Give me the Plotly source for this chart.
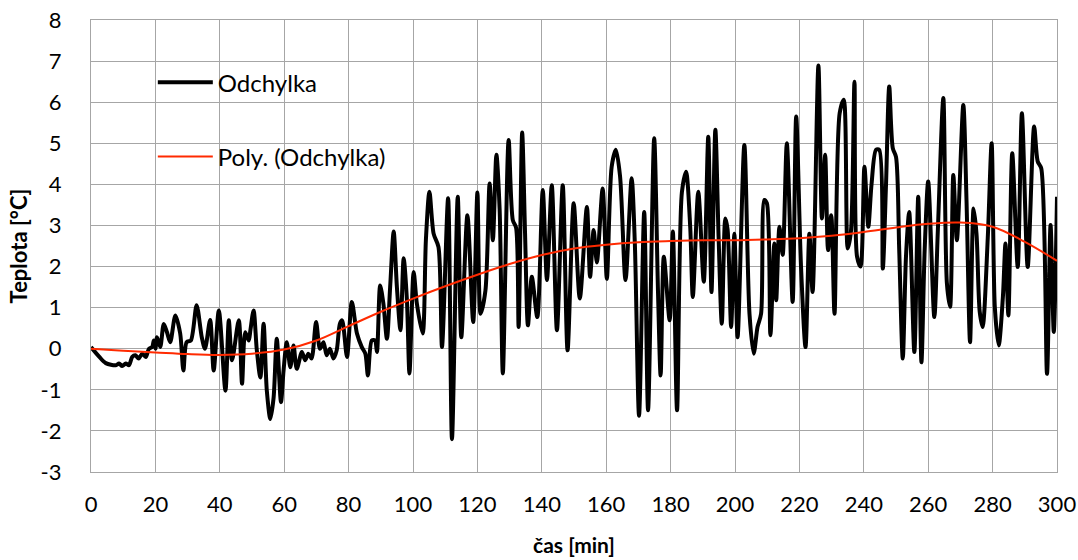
import plotly.graph_objects as go

# Odchylka (deviation): time [min] and temperature [°C]
time_min = [0, 2.6, 4.6, 7.7, 8.7, 9.7, 10.8, 11.8, 12.8, 13.8, 14.8, 15.9, 17, 18, 19, 19.5, 20, 20.5,
            21.5, 22.6, 23.6, 24.6, 26.2, 27.7, 28.7, 29.7, 31, 32.8, 34.4, 35.4, 37, 38.1, 39.7, 41.75,
            42.8, 43.8, 45.9, 46.9, 47.9, 49, 49.5, 50.5, 51.5, 52.6, 53.6, 54.6, 55.7, 56.7, 57.7, 59,
            59.8, 60.8, 61.9, 62.9, 63.9, 65.5, 66.5, 67.5, 68.5, 69.9, 71.1, 72.2, 73.2, 74.2, 75.3,
            76.3, 77.3, 78, 79.5, 81, 82.6, 84.1, 85.2, 86, 87.2, 88.2, 88.8, 89.8, 90.8, 91.9, 92.9, 94,
            95, 96.1, 97.1, 98.1, 98.9, 100.2, 101.2, 103, 104, 105.1, 106.4, 107.9, 109, 110.9, 112.1,
            113.9, 115, 116.9, 118.7, 120, 121, 122.5, 123.8, 124.8, 125.9, 126.9, 127.9, 129.7, 131,
            132, 132.8, 133.9, 134.8, 135.7, 136.9, 138.6, 140.3, 141.6, 143.1, 144.7, 146.5, 148,
            149.9, 151.8, 154, 155, 156.1, 157.1, 158.9, 160.2, 161.7, 163, 164.3, 166, 167.9, 168.9,
            170.2, 171.8, 173, 174.9, 176.1, 176.9, 177.9, 179.7, 180.7, 182, 183.5, 184.8, 186.1,
            186.9, 188.6, 190.3, 191.7, 192.7, 193.9, 194.9, 195.9, 197, 197.7, 198.8, 199.8, 200.8,
            202.9, 204.5, 205.8, 207, 208.1, 209.1, 209.9, 211, 212.2, 212.8, 213.8, 214.8, 216.1,
            217.9, 219, 220.5, 221.9, 223.1, 224.1, 225.9, 227, 228, 228.9, 229.9, 230.9, 232.5, 233.8,
            235, 236, 237.1, 237.9, 239, 240.2, 241.4, 242.4, 243.8, 244.8, 245.9, 246.9, 247.9, 249,
            250, 251, 252.1, 253.1, 254.1, 255.7, 256.9, 257.9, 258.9, 260, 261.9, 263, 264.7, 265.8,
            266.8, 267.8, 268.9, 270.9, 271.9, 273, 274.1, 275, 276, 276.9, 278.5, 279.7, 280.7, 281.9,
            283.2, 284, 284.9, 286.1, 287.8, 289.1, 290.9, 292.9, 294, 295.1, 296.9, 298, 299, 300]
deviation = [0.04, -0.2, -0.35, -0.4, -0.36, -0.42, -0.36, -0.4, -0.2, -0.16, -0.24, -0.12, -0.2, 0.0,
             0.04, 0.2, 0.0, 0.28, 0.04, 0.6, 0.4, 0.16, 0.81, 0.37, -0.53, 0.16, 0.2, 1.06, 0.28, 0.0,
             0.7, -0.53, 0.93, -1.02, 0.69, -0.28, 0.69, -0.85, 0.4, 0.2, 0.45, 0.93, -0.04, -0.7, 0.61,
             -1.02, -1.71, -1.2, 0.24, -1.3, -0.53, 0.16, -0.45, 0.08, -0.49, -0.08, -0.28, -0.12,
             -0.24, 0.65, 0.0, 0.16, -0.16, 0.0, -0.24, -0.04, 0.61, 0.69, -0.2, 1.14, 0.37, 0.04,
             -0.12, -0.65, 0.2, 0.2, -0.08, 1.54, 1.1, 0.24, 1.5, 2.85, 1.5, 0.45, 2.2, 1.2, -0.6, 1.87,
             1.1, 0.37, 2.64, 3.82, 2.8, 2.48, 0.04, 3.66, -2.2, 3.7, 0.28, 3.25, 0.65, 3.8, 0.85, 1.42,
             4.02, 2.64, 4.72, 3.4, -0.6, 5.08, 3.13, 2.95, 0.53, 5.26, 2.8, 0.57, 1.75, 0.77, 3.86,
             1.67, 3.98, 0.45, 3.98, -0.04, 3.54, 1.22, 3.45, 1.75, 2.89, 2.1, 3.9, 1.7, 4.43, 4.84,
             4.2, 1.67, 4.15, 2.55, -1.63, 3.33, -1.5, 5.12, 1.35, -0.65, 2.24, 0.69, 2.85, -1.5, 3.8,
             4.31, 2.95, 1.26, 3.82, 1.63, 5.16, 1.38, 5.33, 2.73, 0.61, 3.17, 2.9, 0.53, 2.8, 0.28,
             4.96, 0.85, -0.12, 0.53, 0.85, 3.62, 3.54, 0.33, 2.56, 1.18, 2.97, 2.28, 5.0, 1.14, 5.65,
             2.0, 0.04, 2.8, 1.38, 6.89, 3.17, 4.72, 2.4, 3.25, 0.85, 5.73, 6.06, 2.44, 2.85, 6.5,
             2.24, 2.0, 4.43, 2.97, 4.0, 4.84, 4.84, 1.95, 4.0, 6.38, 4.88, 4.67, 2.4, -0.24, 2.24,
             3.33, -0.08, 3.7, -0.33, 2.4, 4.07, 0.77, 2.89, 6.1, 1.6, 1.02, 4.23, 2.64, 5.93, 3.6,
             0.16, 3.41, 2.8, 0.9, 0.53, 2.7, 5.0, 1.0, 0.08, 1.26, 2.56, 0.81, 4.76, 1.99, 5.73, 1.99,
             5.41, 4.56, 4.39, -0.61, 3.01, 0.41, 3.7]

# Poly. (Odchylka) trend line
trend_time = [0, 10, 20, 30, 40, 50, 60, 70, 80, 90, 100, 110, 120, 130, 140, 150, 160, 170, 180,
              190, 200, 210, 220, 230, 240, 250, 260, 270, 280, 290, 300]
trend_value = [0.0, -0.05, -0.09, -0.13, -0.15, -0.12, -0.02, 0.2, 0.55, 0.9, 1.22, 1.52, 1.8, 2.06,
               2.28, 2.44, 2.53, 2.59, 2.62, 2.64, 2.64, 2.66, 2.69, 2.75, 2.84, 2.95, 3.04, 3.07,
               2.97, 2.6, 2.14]

x_ticks = list(range(0, 301, 20))
x_tick_text = [str(v) for v in x_ticks]
y_ticks = list(range(-3, 9))
y_tick_text = [str(v) for v in y_ticks]

FONT = "Lato"
GRID = "#a6a6a6"

fig = go.Figure()
fig.add_trace(go.Scatter(
    x=time_min, y=deviation, mode="lines", name="Odchylka",
    line=dict(color="black", width=4, shape="spline", smoothing=0.8),
    legendgroup="a",
))
fig.add_trace(go.Scatter(
    x=trend_time, y=trend_value, mode="lines", name="Poly. (Odchylka)",
    line=dict(color="#ff2a00", width=2, shape="spline", smoothing=1.0),
    legendgroup="b",
))

fig.update_layout(
    width=1078, height=560,
    margin=dict(l=91, r=21, t=20, b=88),
    paper_bgcolor="white", plot_bgcolor="white",
    font=dict(family=FONT, size=22, color="black"),
    showlegend=True,
    legend=dict(
        x=0.064, y=0.911, xanchor="left", yanchor="top",
        bgcolor="rgba(0,0,0,0)", borderwidth=0,
        font=dict(family=FONT, size=24),
        traceorder="grouped", tracegroupgap=40, itemwidth=55,
    ),
    shapes=[dict(
        type="rect", xref="paper", yref="paper",
        x0=0.0435, x1=0.3416, y0=0.616, y1=0.948,
        fillcolor="white", line=dict(width=0), layer="between",
    )],
    xaxis=dict(
        range=[0, 300], tickvals=x_ticks, ticktext=x_tick_text,
        showgrid=True, gridcolor=GRID, gridwidth=1.3,
        showline=True, linecolor=GRID, linewidth=1.3, mirror=True,
        zeroline=False, ticks="", ticklabelstandoff=12, automargin=False,
        tickfont=dict(family=FONT, size=22),
        title=dict(text="<b>čas [min]</b>", font=dict(family=FONT, size=21), standoff=22),
    ),
    yaxis=dict(
        range=[-3, 8], tickvals=y_ticks, ticktext=y_tick_text,
        showgrid=True, gridcolor=GRID, gridwidth=1.3,
        showline=True, linecolor=GRID, linewidth=1.3, mirror=True,
        zeroline=False, ticks="", ticklabelstandoff=24, automargin=False,
        tickfont=dict(family=FONT, size=22),
        title=dict(text="<b>Teplota [°C]</b>", font=dict(family=FONT, size=22), standoff=6),
    ),
)

fig.write_html(
    "out.html",
    config={"displayModeBar": False},
    post_script=("document.documentElement.style.overflow='hidden';"
                 "document.body.style.margin='0';document.body.style.overflow='hidden';"),
)
